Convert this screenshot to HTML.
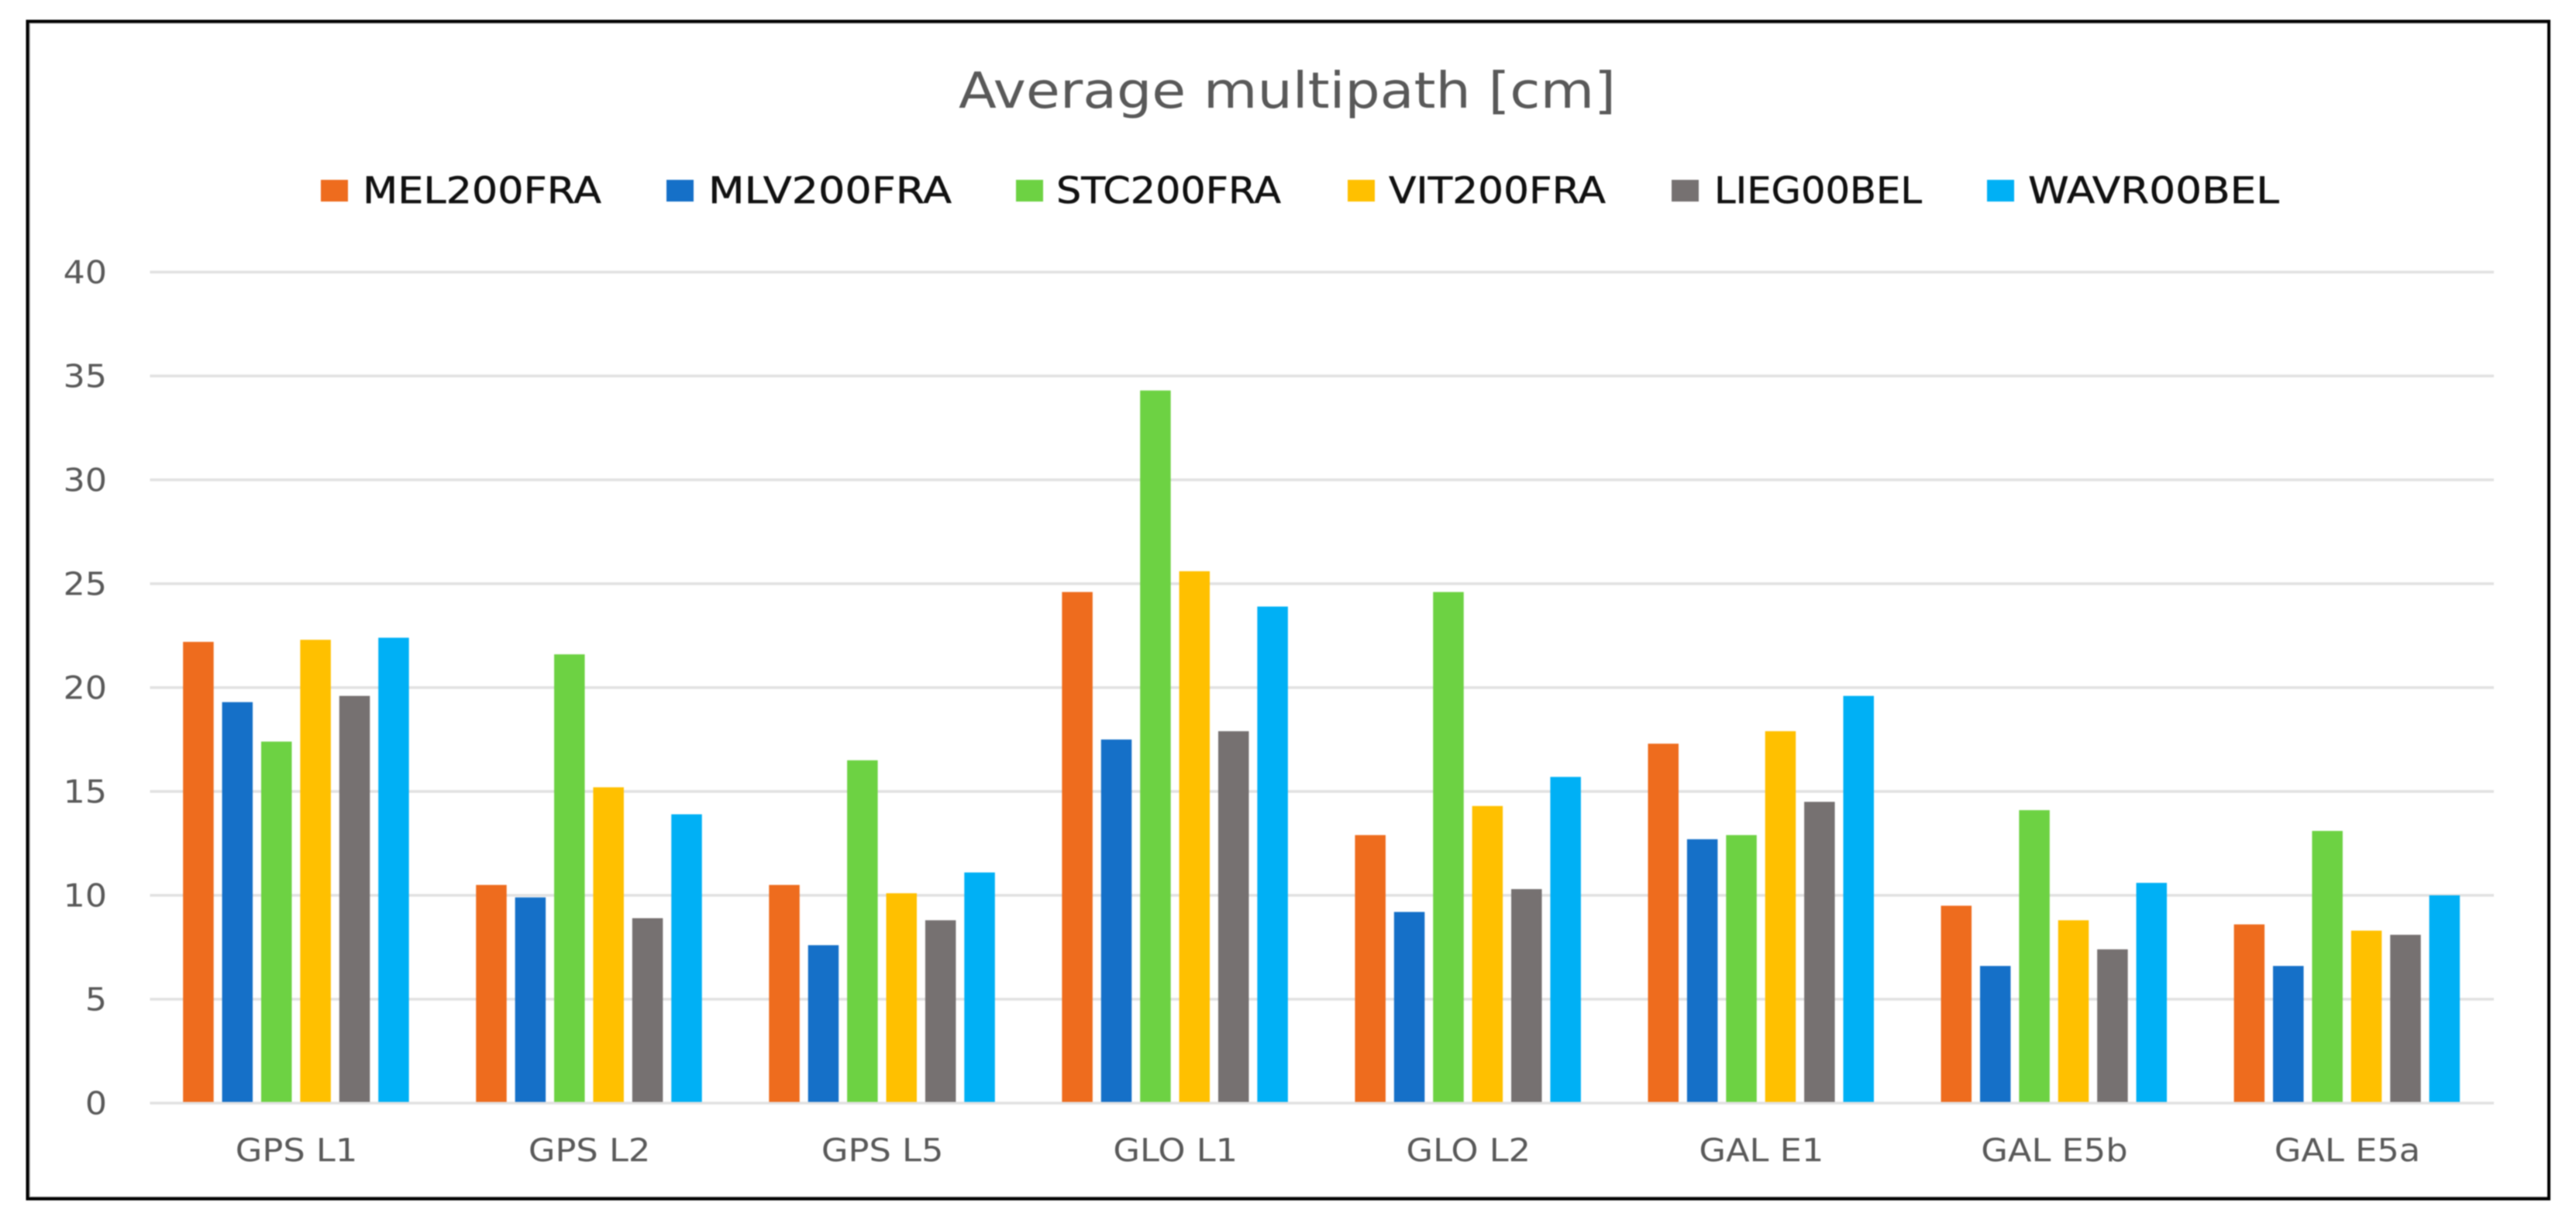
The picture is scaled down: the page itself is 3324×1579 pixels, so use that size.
<!DOCTYPE html>
<html lang="en">
<head>
<meta charset="utf-8">
<title>Average multipath [cm]</title>
<style>
  html, body { margin: 0; padding: 0; background: #fff; width: 3324px; height: 1579px; overflow: hidden; }
  svg { display: block; filter: blur(0.7px); }
  text { font-family: "DejaVu Sans", "Liberation Sans", sans-serif; }
  .legend-label { font-size: 47px; fill: #111111; stroke: #111111; stroke-width: 0.5px; }
</style>
</head>
<body>
<svg id="chart" xmlns="http://www.w3.org/2000/svg" width="3324" height="1579" viewBox="0 0 3324 1579">
  <rect x="0" y="0" width="3324" height="1579" fill="#ffffff"/>
  <g>
    <line x1="38" y1="29.5" x2="3287" y2="29.5" stroke="#aaaaaa" stroke-width="2"/>
    <line x1="38" y1="29" x2="38" y2="1545" stroke="#aaaaaa" stroke-width="2"/>
    <line x1="38" y1="1544.5" x2="3287" y2="1544.5" stroke="#aaaaaa" stroke-width="2"/>
    <rect x="35.5" y="27.5" width="3253.5" height="1519" fill="none" stroke="#000000" stroke-width="4"/>
  </g>
  <text x="1237" y="139" font-size="64.5" fill="#595959" textLength="848" lengthAdjust="spacingAndGlyphs">Average multipath [cm]</text>
  <g id="legend">
    <g>
      <rect x="414" y="232" width="35" height="28" fill="#EE6C1E"/>
      <text class="legend-label" x="468" y="262" textLength="308" lengthAdjust="spacingAndGlyphs">MEL200FRA</text>
    </g>
    <g>
      <rect x="860" y="232" width="35" height="28" fill="#1570C8"/>
      <text class="legend-label" x="914" y="262" textLength="314" lengthAdjust="spacingAndGlyphs">MLV200FRA</text>
    </g>
    <g>
      <rect x="1311" y="232" width="35" height="28" fill="#6DD243"/>
      <text class="legend-label" x="1363" y="262" textLength="290" lengthAdjust="spacingAndGlyphs">STC200FRA</text>
    </g>
    <g>
      <rect x="1739" y="232" width="35" height="28" fill="#FFC000"/>
      <text class="legend-label" x="1792" y="262" textLength="280" lengthAdjust="spacingAndGlyphs">VIT200FRA</text>
    </g>
    <g>
      <rect x="2157" y="232" width="35" height="28" fill="#767171"/>
      <text class="legend-label" x="2212" y="262" textLength="268" lengthAdjust="spacingAndGlyphs">LIEG00BEL</text>
    </g>
    <g>
      <rect x="2564" y="232" width="35" height="28" fill="#00B0F5"/>
      <text class="legend-label" x="2617" y="262" textLength="324" lengthAdjust="spacingAndGlyphs">WAVR00BEL</text>
    </g>
  </g>
  <g id="gridlines"></g>
  <g id="y-axis"></g>
  <g id="bars"></g>
  <g id="x-axis"></g>
</svg>
<script>
// ---- Chart data ----
const categories = ["GPS L1", "GPS L2", "GPS L5", "GLO L1", "GLO L2", "GAL E1", "GAL E5b", "GAL E5a"];
const seriesNames = ["MEL200FRA", "MLV200FRA", "STC200FRA", "VIT200FRA", "LIEG00BEL", "WAVR00BEL"];
const mel200fra = [22.2, 10.5, 10.5, 24.6, 12.9, 17.3, 9.5, 8.6];
const mlv200fra = [19.3, 9.9, 7.6, 17.5, 9.2, 12.7, 6.6, 6.6];
const stc200fra = [17.4, 21.6, 16.5, 34.3, 24.6, 12.9, 14.1, 13.1];
const vit200fra = [22.3, 15.2, 10.1, 25.6, 14.3, 17.9, 8.8, 8.3];
const lieg00bel = [19.6, 8.9, 8.8, 17.9, 10.3, 14.5, 7.4, 8.1];
const wavr00bel = [22.4, 13.9, 11.1, 23.9, 15.7, 19.6, 10.6, 10.0];
const seriesValues = [mel200fra, mlv200fra, stc200fra, vit200fra, lieg00bel, wavr00bel];
const yTicks = [0, 5, 10, 15, 20, 25, 30, 35, 40];
const seriesColors = ["#EE6C1E", "#1570C8", "#6DD243", "#FFC000", "#767171", "#00B0F5"];

// ---- Axis functions ----
const SVG_NS = "http://www.w3.org/2000/svg";
const plotLeft = 193.5, plotRight = 3218, plotBottom = 1423, plotTop = 351;
const yMax = 40;
const yScale = function (v) { return plotBottom - (v / yMax) * (plotBottom - plotTop); };
const bandWidth = (plotRight - plotLeft) / categories.length;
const bandStart = function (i) { return plotLeft + i * bandWidth; };
const barWidth = 39.5;
const barStep = 50.4;
const barMargin = (bandWidth - (barWidth + barStep * (seriesNames.length - 1))) / 2 - 0.6;
const slug = function (s) { return s.toLowerCase().replace(/\s+/g, "-"); };

function make(tag, parent) {
  const node = document.createElementNS(SVG_NS, tag);
  parent.appendChild(node);
  return node;
}

// Gridlines and y tick labels
const gridGroup = document.getElementById("gridlines");
const yGroup = document.getElementById("y-axis");
yTicks.forEach(function (t) {
  const line = make("line", gridGroup);
  
  
  line.setAttribute("x1", plotLeft);
  line.setAttribute("x2", plotRight);
  line.setAttribute("y1", yScale(t));
  line.setAttribute("y2", yScale(t));
  line.setAttribute("stroke", "#e1e1e1");
  line.setAttribute("stroke-width", "3.6");

  const label = make("text", yGroup);
  
  
  label.setAttribute("text-anchor", "end");
  label.setAttribute("font-size", "41");
  label.setAttribute("fill", "#595959");
  label.setAttribute("transform", "translate(138," + (yScale(t) + 14.5) + ") scale(1.08,1)");
  label.textContent = String(t);
});

// Bars
const barGroup = document.getElementById("bars");
seriesValues.forEach(function (values, s) {
  values.forEach(function (v, c) {
    const bar = make("rect", barGroup);
    
    
    const top = yScale(v);
    const bottom = yScale(0) - 1.5;
    bar.setAttribute("x", bandStart(c) + barMargin + s * barStep);
    bar.setAttribute("y", top);
    bar.setAttribute("width", barWidth);
    bar.setAttribute("height", Math.max(0, bottom - top));
    bar.setAttribute("fill", seriesColors[s]);
  });
});

// Category labels
const xGroup = document.getElementById("x-axis");
categories.forEach(function (name, i) {
  const label = make("text", xGroup);
  
  
  label.setAttribute("text-anchor", "middle");
  label.setAttribute("font-size", "41");
  label.setAttribute("fill", "#595959");
  label.setAttribute("transform", "translate(" + (bandStart(i) + bandWidth / 2) + ",1498) scale(1.09,1)");
  label.textContent = name;
});
</script>
</body>
</html>
